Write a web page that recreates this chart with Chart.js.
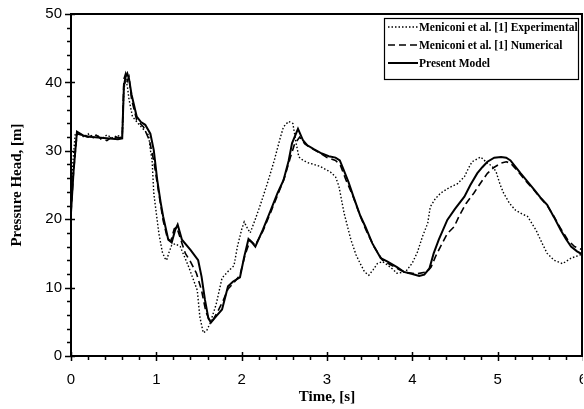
<!DOCTYPE html>
<html>
<head>
<meta charset="utf-8">
<script src="https://cdn.jsdelivr.net/npm/chart.js@4.4.1/dist/chart.umd.min.js"></script>
<style>
  html, body { margin: 0; padding: 0; background: #fff; overflow: hidden; }
  #wrap { width: 583px; height: 409px; position: relative; }
  canvas { display: block; }
</style>
</head>
<body>
<div id="wrap"><canvas id="myChart"></canvas></div>
<script>
// Meniconi et al. [1] Experimental (dotted)
const expTime = [0, 0.02, 0.05, 0.1, 0.15, 0.2, 0.25, 0.3, 0.35, 0.42, 0.5, 0.56, 0.6, 0.62, 0.64, 0.66, 0.68, 0.72, 0.8, 0.86, 0.91, 0.93, 0.95, 0.97, 1.03, 1.07, 1.1, 1.12, 1.15, 1.18, 1.22, 1.28, 1.33, 1.38, 1.43, 1.48, 1.51, 1.55, 1.59, 1.63, 1.7, 1.77, 1.85, 1.91, 1.95, 2.0, 2.03, 2.07, 2.1, 2.16, 2.23, 2.3, 2.38, 2.45, 2.49, 2.55, 2.6, 2.64, 2.67, 2.72, 2.79, 2.85, 2.92, 3.04, 3.1, 3.14, 3.2, 3.28, 3.34, 3.39, 3.44, 3.49, 3.54, 3.59, 3.65, 3.71, 3.77, 3.82, 3.92, 4.0, 4.06, 4.12, 4.18, 4.21, 4.27, 4.33, 4.43, 4.53, 4.61, 4.66, 4.7, 4.8, 4.88, 4.93, 4.98, 5.03, 5.07, 5.14, 5.21, 5.28, 5.35, 5.45, 5.52, 5.58, 5.66, 5.76, 5.86, 5.97, 6.0];
const expHead = [22, 28, 32.5, 32.6, 32.0, 32.5, 31.8, 32.4, 31.7, 32.3, 31.8, 32.2, 31.9, 39.0, 40.3, 39.5, 37.5, 35.0, 33.8, 33.0, 32.3, 30.1, 28.7, 23.8, 17.9, 15.2, 14.3, 14.0, 15.2, 16.2, 16.4, 16.0, 14.5, 13.0, 11.3, 9.6, 5.7, 3.4, 3.7, 4.8, 7.5, 11.4, 12.5, 13.2, 16.0, 18.5, 19.6, 18.6, 18.0, 20.0, 22.5, 25.2, 28.5, 31.8, 33.5, 34.3, 34.0, 31.0, 29.1, 28.6, 28.2, 28.0, 27.7, 26.9, 26.2, 24.8, 20.9, 17.0, 14.8, 13.5, 12.3, 11.8, 12.6, 13.5, 13.8, 13.3, 12.7, 12.1, 12.3, 13.6, 15.2, 17.5, 19.4, 21.8, 23.0, 23.8, 24.6, 25.2, 26.2, 27.5, 28.4, 29.1, 28.2, 27.8, 27.0, 25.0, 23.8, 22.3, 21.3, 20.8, 20.4, 18.4, 16.5, 15.0, 14.0, 13.5, 14.3, 14.8, 15.0];

// Meniconi et al. [1] Numerical (dashed)
const numTime = [0, 0.03, 0.07, 0.12, 0.2, 0.28, 0.35, 0.42, 0.5, 0.55, 0.6, 0.62, 0.64, 0.66, 0.68, 0.71, 0.77, 0.85, 0.92, 0.97, 1.02, 1.08, 1.13, 1.17, 1.21, 1.24, 1.3, 1.34, 1.4, 1.47, 1.53, 1.58, 1.62, 1.66, 1.72, 1.78, 1.84, 1.9, 1.98, 2.04, 2.1, 2.16, 2.25, 2.34, 2.42, 2.5, 2.57, 2.62, 2.68, 2.74, 2.8, 2.9, 3.0, 3.1, 3.16, 3.22, 3.3, 3.38, 3.45, 3.55, 3.65, 3.75, 3.85, 3.93, 4.05, 4.17, 4.22, 4.27, 4.33, 4.41, 4.49, 4.55, 4.63, 4.72, 4.8, 4.88, 4.96, 5.04, 5.1, 5.15, 5.21, 5.27, 5.35, 5.43, 5.5, 5.58, 5.66, 5.74, 5.82, 5.9, 6.0];
const numHead = [21, 27, 32.5, 32.3, 32.0, 32.4, 31.8, 31.5, 32.2, 31.9, 32.0, 40.5, 41.3, 40.2, 40.8, 37.5, 34.5, 33.5, 31.5, 28.5, 24.5, 19.8, 17.2, 16.8, 18.6, 18.8, 16.5, 15.0, 13.8, 12.1, 9.6, 6.5, 5.3, 5.2, 6.5, 8.0, 9.8, 10.6, 11.8, 14.8, 16.9, 16.2, 18.3, 21.0, 23.5, 26.0, 29.0, 31.0, 32.0, 31.0, 30.5, 29.8, 29.0, 28.6, 27.8, 25.8, 23.5, 20.8, 18.6, 16.0, 14.0, 13.3, 12.6, 12.2, 12.0, 12.3, 13.0, 14.5, 16.0, 17.9, 18.9, 20.5, 22.3, 23.8, 25.3, 26.7, 27.6, 28.2, 28.4, 28.2, 27.4, 26.5, 25.3, 24.2, 23.1, 22.0, 20.4, 18.6, 17.0, 16.0, 15.5];

// Present Model (solid)
const modTime = [0, 0.03, 0.07, 0.15, 0.25, 0.35, 0.45, 0.55, 0.6, 0.62, 0.64, 0.66, 0.68, 0.71, 0.77, 0.82, 0.87, 0.93, 0.97, 1.01, 1.05, 1.08, 1.14, 1.18, 1.22, 1.25, 1.3, 1.4, 1.49, 1.53, 1.57, 1.61, 1.64, 1.7, 1.77, 1.84, 1.9, 1.98, 2.03, 2.08, 2.12, 2.16, 2.25, 2.34, 2.42, 2.49, 2.55, 2.59, 2.66, 2.72, 2.77, 2.85, 2.94, 3.02, 3.1, 3.15, 3.18, 3.25, 3.31, 3.39, 3.45, 3.53, 3.63, 3.71, 3.82, 3.9, 4.0, 4.08, 4.14, 4.2, 4.25, 4.31, 4.41, 4.5, 4.61, 4.68, 4.76, 4.82, 4.88, 4.96, 5.04, 5.1, 5.15, 5.2, 5.27, 5.35, 5.43, 5.5, 5.58, 5.66, 5.74, 5.8, 5.86, 5.93, 6.0];
const modHead = [21, 27, 32.8, 32.2, 32.0, 31.9, 31.8, 31.7, 31.8, 39.5, 40.8, 41.3, 40.5, 38.2, 35.0, 34.2, 33.8, 32.5, 30.1, 25.8, 22.5, 20.4, 17.0, 16.6, 18.4, 19.2, 17.0, 15.5, 14.0, 11.6, 8.2, 5.5, 4.9, 5.8, 6.8, 10.2, 10.9, 11.5, 14.5, 17.1, 16.6, 16.0, 18.5, 21.3, 23.8, 25.7, 28.5, 31.1, 33.2, 31.5, 30.8, 30.2, 29.6, 29.2, 29.0, 28.6, 27.7, 25.5, 23.3, 20.5, 18.9, 16.5, 14.3, 13.8, 13.0, 12.3, 12.0, 11.7, 11.9, 12.8, 15.0, 17.0, 19.9, 21.5, 23.3, 25.0, 26.7, 27.6, 28.4, 29.0, 29.1, 29.0, 28.6, 27.8, 26.7, 25.5, 24.3, 23.2, 22.1, 20.3, 18.4, 17.1, 16.0, 15.3, 14.8];

const xTicks = [0, 1, 2, 3, 4, 5, 6];
const yTicks = [0, 10, 20, 30, 40, 50];

const seriesNames = ['Meniconi et al. [1] Experimental', 'Meniconi et al. [1] Numerical', 'Present Model'];

function toPoints(ts, hs) {
    return ts.map((t, i) => ({ x: t, y: hs[i] }));
}

const styles = [
    { dash: [1.5, 2], width: 1.4 },
    { dash: [7, 4], width: 1.6 },
    { dash: [], width: 2 }
];

// box, tick marks and legend drawn on top of the chart
const framePlugin = {
    id: 'frame',
    afterDraw(chart) {
        const ctx = chart.ctx;
        const area = chart.chartArea;
        const xs = chart.scales.x;
        const ys = chart.scales.y;
        ctx.save();
        ctx.strokeStyle = '#000';
        ctx.lineWidth = 2;
        ctx.strokeRect(area.left, area.top, area.right - area.left - 1, area.bottom - area.top);

        ctx.lineWidth = 1.5;
        ctx.beginPath();
        for (let v = 0; v <= 50.001; v += 2) {
            const py = Math.round(ys.getPixelForValue(v)) + 0.5;
            const major = Math.abs(v % 10) < 0.01;
            ctx.moveTo(area.left - (major ? 6 : 4), py);
            ctx.lineTo(area.left + (major ? 4 : 0), py);
        }
        for (let i = 0; i <= 30; i++) {
            const v = i * 0.2;
            const px = Math.round(xs.getPixelForValue(v)) + 0.5;
            const major = i % 5 === 0;
            ctx.moveTo(px, area.bottom - (major ? 4 : 0));
            ctx.lineTo(px, area.bottom + (major ? 5 : 4));
        }
        ctx.stroke();

        // legend
        const lx = 384, ly = 18, lw = 194, lh = 61;
        ctx.fillStyle = '#fff';
        ctx.fillRect(lx, ly, lw, lh);
        ctx.lineWidth = 1.2;
        ctx.strokeRect(lx + 0.5, ly + 0.5, lw, lh);
        ctx.font = 'bold 11.5px "Liberation Serif"';
        ctx.textBaseline = 'middle';
        ctx.fillStyle = '#000';
        seriesNames.forEach((name, i) => {
            const y = ly + 9 + i * 18;
            ctx.beginPath();
            ctx.setLineDash(styles[i].dash);
            ctx.lineWidth = styles[i].width;
            ctx.moveTo(lx + 4, y);
            ctx.lineTo(lx + 34, y);
            ctx.stroke();
            ctx.setLineDash([]);
            ctx.fillText(name, lx + 35, y + 1);
        });
        ctx.restore();
    }
};

document.addEventListener('DOMContentLoaded', () => {
    const ctx = document.getElementById('myChart');
    const allSeries = [
        toPoints(expTime, expHead),
        toPoints(numTime, numHead),
        toPoints(modTime, modHead)
    ];
    new Chart(ctx, {
        type: 'line',
        data: {
            datasets: allSeries.map((pts, i) => ({
                label: seriesNames[i],
                data: pts,
                borderColor: '#000',
                borderWidth: styles[i].width,
                borderDash: styles[i].dash,
                pointRadius: 0,
                tension: 0,
                fill: false
            }))
        },
        options: {
            responsive: true,
            maintainAspectRatio: false,
            animation: false,
            layout: { padding: { top: 14, right: 0, left: 0, bottom: 0 } },
            plugins: {
                legend: { display: false },
                tooltip: { enabled: false }
            },
            scales: {
                x: {
                    type: 'linear',
                    min: 0,
                    max: 6,
                    afterFit: (s) => {
                        s.height = 53;
                        s.paddingLeft = 0;
                        s.paddingRight = 0;
                    },
                    afterBuildTicks: (s) => { s.ticks = xTicks.map(v => ({ value: v })); },
                    grid: { display: false, drawTicks: false },
                    border: { display: false },
                    ticks: {
                        color: '#000',
                        padding: 15,
                        maxRotation: 0,
                        font: { family: 'Liberation Sans', size: 15 }
                    },
                    title: {
                        display: true,
                        text: 'Time, [s]',
                        color: '#000',
                        padding: { top: 0, bottom: 3 },
                        font: { family: 'Liberation Serif', size: 15, weight: 'bold' }
                    }
                },
                y: {
                    min: 0,
                    max: 50,
                    afterFit: (s) => {
                        s.width = 71;
                        s.paddingTop = 0;
                        s.paddingBottom = 0;
                    },
                    afterBuildTicks: (s) => { s.ticks = yTicks.map(v => ({ value: v })); },
                    grid: { display: false, drawTicks: false },
                    border: { display: false },
                    ticks: {
                        color: '#000',
                        padding: 9,
                        font: { family: 'Liberation Sans', size: 15 }
                    },
                    title: {
                        display: true,
                        text: 'Pressure Head, [m]',
                        color: '#000',
                        padding: { top: 8, bottom: 0 },
                        font: { family: 'Liberation Serif', size: 15, weight: 'bold' }
                    }
                }
            }
        },
        plugins: [framePlugin]
    });
});
</script>
</body>
</html>
